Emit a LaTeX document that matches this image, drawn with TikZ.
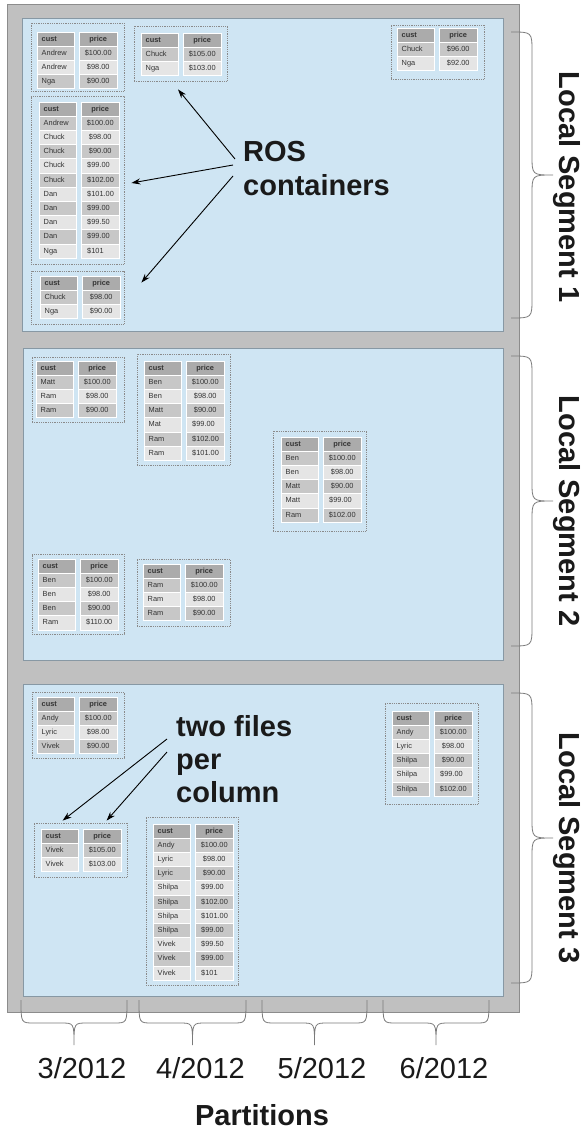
\documentclass[tikz,border=0pt]{standalone}
\usepackage{fontspec}
\setmainfont{Liberation Sans}
\usetikzlibrary{fit,arrows.meta}
\definecolor{outergray}{HTML}{C0C0C0}
\definecolor{outerline}{HTML}{8C8C8C}
\definecolor{segblue}{HTML}{CFE5F3}
\definecolor{segline}{HTML}{8798A4}
\definecolor{dotline}{HTML}{8A8A8A}
\definecolor{hdrfill}{HTML}{ABABAB}
\definecolor{rowdark}{HTML}{C7C7C7}
\definecolor{rowlight}{HTML}{E5E5E5}
\definecolor{bracegray}{HTML}{7A7A7A}
\definecolor{celltext}{HTML}{333333}
\definecolor{bigtext}{HTML}{1A1A1A}
\tikzset{
 rosbox/.style={draw=dotline, line width=0.8pt, dash pattern=on 0.9pt off 0.9pt, inner sep=0pt},
 cellbox/.style={draw=white, line width=0.9pt},
 celltxt/.style={font=\fontsize{7.4}{8}\selectfont, text=celltext, inner sep=0pt, text height=5.3pt, text depth=1.2pt},
 hdrtxt/.style={celltxt, font=\fontsize{7.4}{8}\selectfont\bfseries},
 arr/.style={line width=0.9pt, -{Stealth[length=9pt,width=6pt]}},
 bracestyle/.style={draw=bracegray, line width=0.8pt},
 biglbl/.style={font=\fontsize{29}{34}\selectfont\bfseries, text=bigtext, inner sep=0pt},
 biglbltight/.style={font=\fontsize{29}{33}\selectfont\bfseries, text=bigtext, inner sep=0pt},
 datelbl/.style={font=\fontsize{29}{34}\selectfont, text=bigtext, inner sep=0pt},
}
% table: name, box x1,y1,x2,y2, column x, header y, rows
\newcommand\rostab[8]{%
  \coordinate (#1-a) at (#2,#3);
  \coordinate (#1-b) at (#4,#5);
  \node[rosbox, fit=(#1-a)(#1-b)] (#1) {};
  \path[cellbox, fill=hdrfill] (#6,#7) rectangle ++(37.5,14.2);
  \path[cellbox, fill=hdrfill] (#6+42,#7) rectangle ++(38.5,14.2);
  \node[hdrtxt, anchor=west] at (#6+4.5,#7+7.1) {cust};
  \node[hdrtxt] at (#6+61.25,#7+7.1) {price};
  \foreach \cu/\pr/\al [count=\i] in {#8} {
    \pgfmathsetmacro\ty{#7+\i*14.2}
    \ifodd\i\relax\def\rc{rowdark}\else\def\rc{rowlight}\fi
    \path[cellbox, fill=\rc] (#6,\ty) rectangle ++(37.5,14.2);
    \path[cellbox, fill=\rc] (#6+42,\ty) rectangle ++(38.5,14.2);
    \node[celltxt, anchor=west] at (#6+4.5,\ty+7.1) {\cu};
    \if c\al
      \node[celltxt] at (#6+61.25,\ty+7.1) {\pr};
    \else
      \node[celltxt, anchor=west] at (#6+48,\ty+7.1) {\pr};
    \fi
  }%
}
% vertical brace bulging right: x, ytop, ybot, ymid, h, a, c
\newcommand\vbrace[7]{%
  \draw[bracestyle] (#1,#2) .. controls (#1+#5,#2) .. (#1+#5,#2+#7) -- (#1+#5,#4-#7)
    .. controls (#1+#5,#4) .. (#1+#6,#4) .. controls (#1+#5,#4) .. (#1+#5,#4+#7)
    -- (#1+#5,#3-#7) .. controls (#1+#5,#3) .. (#1,#3);
}
% horizontal brace bulging down: y, xl, xr, xm, h, a, c
\newcommand\hbrace[7]{%
  \draw[bracestyle] (#2,#1) .. controls (#2,#1+#5) .. (#2+#7,#1+#5) -- (#4-#7,#1+#5)
    .. controls (#4,#1+#5) .. (#4,#1+#6) .. controls (#4,#1+#5) .. (#4+#7,#1+#5)
    -- (#3-#7,#1+#5) .. controls (#3,#1+#5) .. (#3,#1);
}
\begin{document}
\begin{tikzpicture}[x=1pt,y=-1pt]
\useasboundingbox (0,0) rectangle (584,1129);
\fill[white] (0,0) rectangle (584,1129);
% frame and segments
\draw[fill=outergray, draw=outerline, line width=1pt] (7,5) rectangle (519,1012);
\draw[fill=segblue, draw=segline, line width=1pt] (22.5,19) rectangle (503.5,331);
\draw[fill=segblue, draw=segline, line width=1pt] (23,348) rectangle (503.5,660);
\draw[fill=segblue, draw=segline, line width=1pt] (23,684.5) rectangle (503.5,996);
% segment 1
\rostab{T1}{31}{23}{124}{91}{37}{32}{Andrew/\$100.00/c, Andrew/\$98.00/c, Nga/\$90.00/c}
\rostab{T2}{134}{26}{227}{81}{141}{33}{Chuck/\$105.00/c, Nga/\$103.00/c}
\rostab{T3}{391}{25}{484}{79}{397}{28}{Chuck/\$96.00/c, Nga/\$92.00/c}
\rostab{T4}{31}{96}{124}{264}{39}{102}{Andrew/\$100.00/c, Chuck/\$98.00/c, Chuck/\$90.00/c, Chuck/\$99.00/l, Chuck/\$102.00/l, Dan/\$101.00/l, Dan/\$99.00/l, Dan/\$99.50/l, Dan/\$99.00/l, Nga/\$101/l}
\rostab{T5}{31}{271}{124}{324}{40}{276}{Chuck/\$98.00/c, Nga/\$90.00/c}
% segment 2
\rostab{T6}{32}{357}{124}{422}{36}{361}{Matt/\$100.00/c, Ram/\$98.00/c, Ram/\$90.00/c}
\rostab{T7}{137}{354}{230}{465}{144}{361}{Ben/\$100.00/c, Ben/\$98.00/c, Matt/\$90.00/c, Mat/\$99.00/l, Ram/\$102.00/l, Ram/\$101.00/l}
\rostab{T8}{273}{431}{366}{531}{281}{437}{Ben/\$100.00/c, Ben/\$98.00/c, Matt/\$90.00/c, Matt/\$99.00/l, Ram/\$102.00/c}
\rostab{T9}{32}{554}{124}{634}{38}{559}{Ben/\$100.00/c, Ben/\$98.00/c, Ben/\$90.00/c, Ram/\$110.00/c}
\rostab{T10}{137}{559}{230}{626}{143}{564}{Ram/\$100.00/c, Ram/\$98.00/c, Ram/\$90.00/c}
% segment 3
\rostab{T11}{32}{692}{124}{758}{37}{697}{Andy/\$100.00/c, Lyric/\$98.00/c, Vivek/\$90.00/c}
\rostab{T12}{34}{823}{127}{877}{41}{829}{Vivek/\$105.00/c, Vivek/\$103.00/c}
\rostab{T13}{146}{817}{238}{985}{153}{824}{Andy/\$100.00/c, Lyric/\$98.00/c, Lyric/\$90.00/c, Shilpa/\$99.00/l, Shilpa/\$102.00/l, Shilpa/\$101.00/l, Shilpa/\$99.00/l, Vivek/\$99.50/l, Vivek/\$99.00/l, Vivek/\$101/l}
\rostab{T14}{385}{703}{478}{804}{392}{711}{Andy/\$100.00/c, Lyric/\$98.00/c, Shilpa/\$90.00/c, Shilpa/\$99.00/l, Shilpa/\$102.00/c}
% callouts
\node[biglbl, anchor=north west, align=left] (ros) at (243,141) {ROS\\containers};
\coordinate (r1) at (235,159);
\coordinate (r2) at (233,165);
\coordinate (r3) at (233,176);
\draw[arr] (r1) -- ([shift={(-2.5,8)}]T2.south);
\draw[arr] (r2) -- ([shift={(7,3)}]T4.east);
\draw[arr] (r3) -- ([shift={(17,12)}]T5.north east);
\node[biglbltight, anchor=north west, align=left] (twof) at (176,715) {two files\\per\\column};
\coordinate (f1) at (167,739);
\coordinate (f2) at (167,752);
\draw[arr] (f1) -- ([shift={(29,-2)}]T12.north west);
\draw[arr] (f2) -- ([shift={(73,-2)}]T12.north west);
% segment braces and labels
\vbrace{511}{32}{318}{175}{21}{42}{20}
\vbrace{511}{356}{646}{501}{21}{42}{20}
\vbrace{511}{693}{983}{838}{21}{42}{20}
\node[biglbl, rotate=-90] (ls1) at (567,187) {Local Segment 1};
\node[biglbl, rotate=-90] (ls2) at (567,511) {Local Segment 2};
\node[biglbl, rotate=-90] (ls3) at (567,848) {Local Segment 3};
% partition braces and labels
\hbrace{1000}{21}{127}{74}{23}{45}{13}
\hbrace{1000}{139}{246}{192.5}{23}{45}{13}
\hbrace{1000}{262}{367}{314.5}{23}{45}{13}
\hbrace{1000}{383}{489}{436}{23}{45}{13}
\node[datelbl, anchor=base] (p3) at (82,1078) {3/2012};
\node[datelbl, anchor=base] (p4) at (200.5,1078) {4/2012};
\node[datelbl, anchor=base] (p5) at (322,1078) {5/2012};
\node[datelbl, anchor=base] (p6) at (444,1078) {6/2012};
\node[biglbl, anchor=base] (parts) at (262,1125) {Partitions};
\end{tikzpicture}
\end{document}
